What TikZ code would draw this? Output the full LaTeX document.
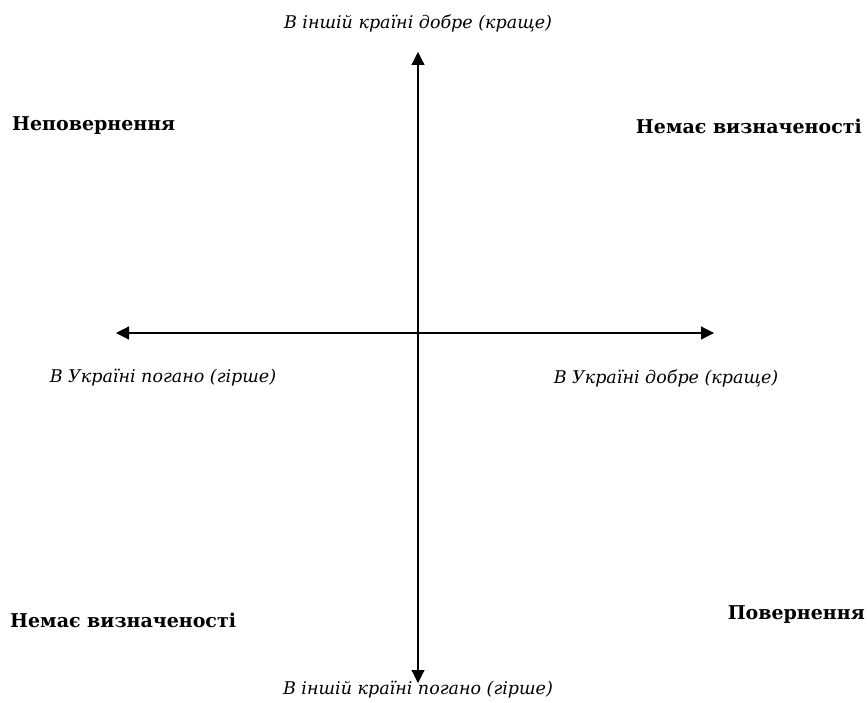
\documentclass[tikz,border=0pt]{standalone}
\usepackage{fontspec}
\setmainfont{DejaVu Serif}
\usepackage{tikz}
\usetikzlibrary{arrows.meta, positioning}

\begin{document}
\begin{tikzpicture}[x=1pt, y=-1pt,
  axislabel/.style={font=\fontsize{17.5}{20}\selectfont\itshape, inner sep=0pt},
  zone/.style={font=\fontsize{19}{22}\selectfont\bfseries, inner sep=0pt},
  axis/.style={{Triangle[width=13pt,length=13pt]}-{Triangle[width=13pt,length=13pt]}, line width=1.2pt}
]
  \useasboundingbox (0,0) rectangle (867,703);

  % axes
  \node[axislabel] (better)  at (418,23)  {В іншій країні добре (краще)};
  \node[axislabel] (worse)   at (418,690) {В іншій країні погано (гірше)};
  \node[axislabel] (uabad)   at (163,378) {В Україні погано (гірше)};
  \node[axislabel] (uagood)  at (666,378) {В Україні добре (краще)};

  \coordinate (top)    at (418,52);
  \coordinate (bottom) at (418,683);
  \coordinate (left)   at (116,333);
  \coordinate (right)  at (714,333);

  \draw[axis] (top) -- (bottom);
  \draw[axis] (left) -- (right);

  % quadrants
  \node[zone, anchor=west] (noreturn) at (12,126)  {Неповернення};
  \node[zone, anchor=east] (unsure1)  at (862,126) {Немає визначеності};
  \node[zone, anchor=west] (unsure2)  at (10,620)  {Немає визначеності};
  \node[zone, anchor=east] (return)   at (865,615) {Повернення};
\end{tikzpicture}
\end{document}
